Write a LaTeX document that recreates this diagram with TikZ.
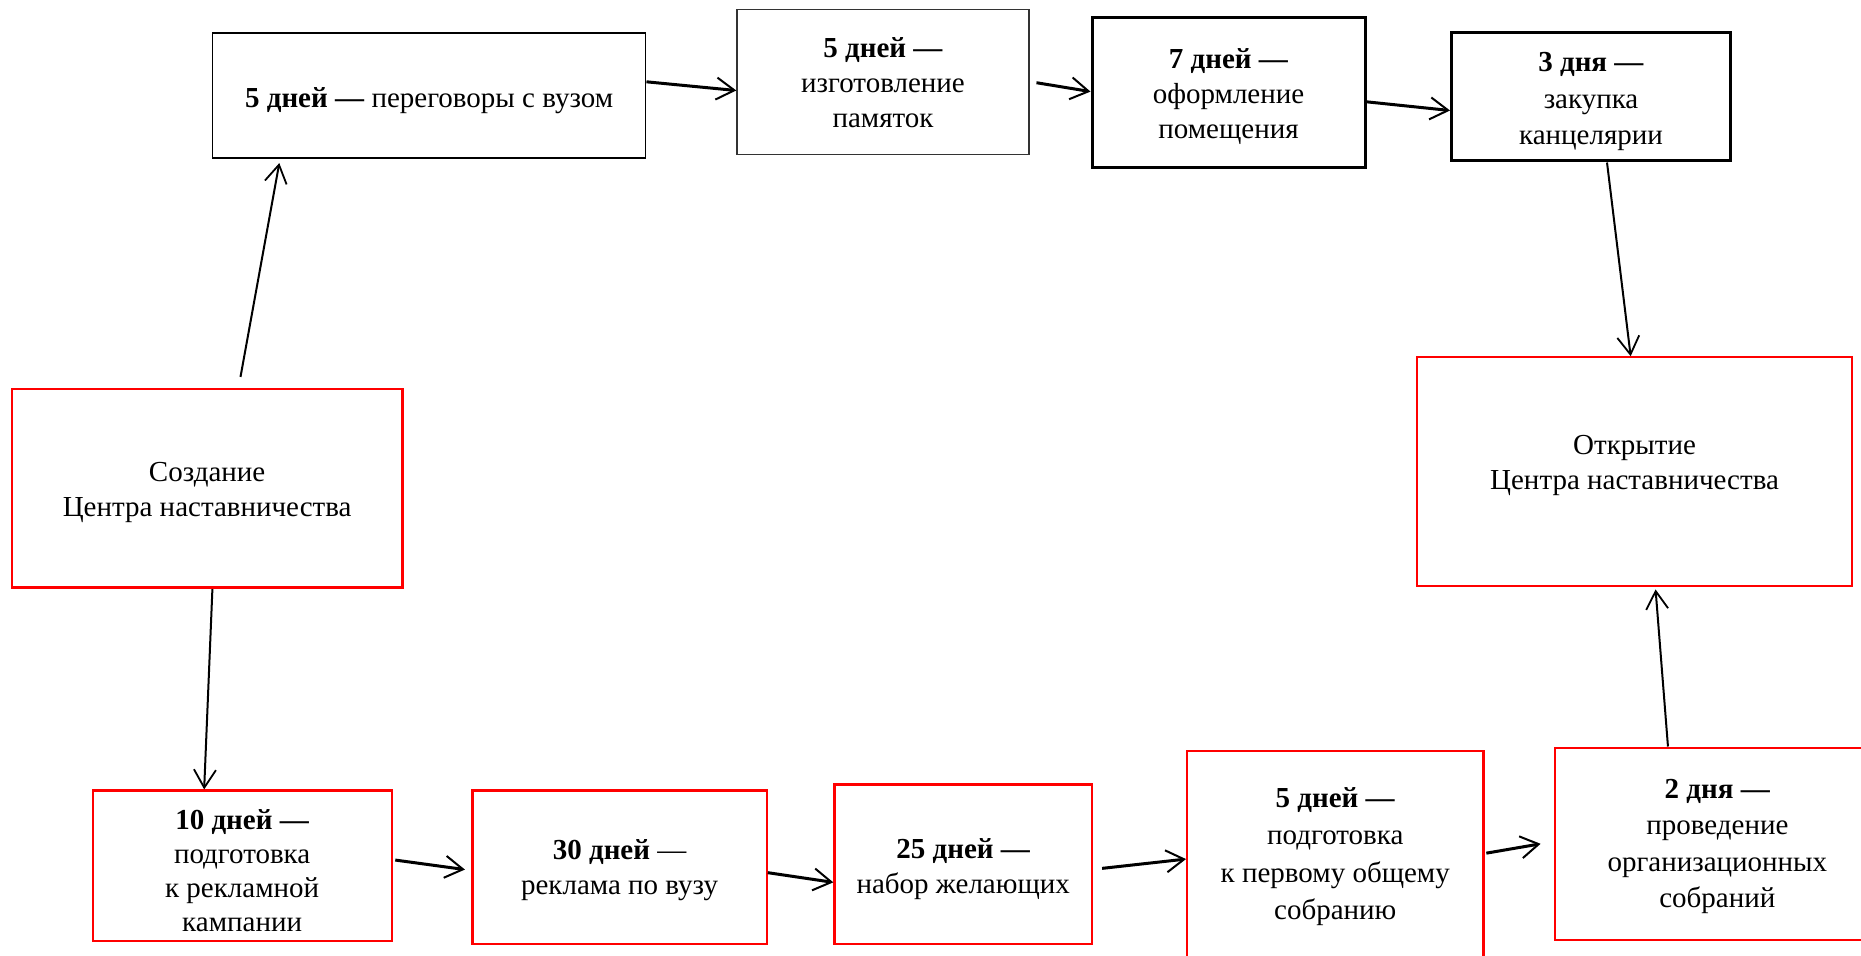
\documentclass[tikz,border=0pt]{standalone}
\usepackage{fontspec}
\setmainfont{Liberation Serif}
\usetikzlibrary{arrows.meta}
\newsavebox\bxbox
\newcommand\bx[3][1]{\sbox\bxbox{\def\arraystretch{#1}\begin{tabular}{@{}c@{}}#3\end{tabular}}\raisebox{#2}[\ht\bxbox][\dp\bxbox]{\usebox\bxbox}}
\begin{document}
\begin{tikzpicture}[x=0.5pt,y=-0.5pt,
  box/.style={draw, rectangle, inner sep=0pt, align=center,
    font=\fontsize{14.5}{17.5}\selectfont},
  thinbox/.style={box, line width=0.75pt},
  thickbox/.style={box, line width=1.5pt},
  redbox/.style={box, draw=red, line width=1.1pt},
  arr/.style={-{Straight Barb[length=9pt,width=11pt,line width=1pt]}, line width=1.5pt},
  longarr/.style={-{Straight Barb[length=9pt,width=11pt,line width=0.9pt]}, line width=1pt}
]
\useasboundingbox (0,0) rectangle (1861,955);
\clip (0,0) rectangle (1861,955);
\fill[white] (0,0) rectangle (1861,955);

\node[thinbox, minimum width=216.6pt, minimum height=62.3pt] (A) at (429.1,95.5)
  {\bx{-2.4pt}{\textbf{5 дней —} переговоры с вузом}};
\node[thinbox, draw=black!80, minimum width=146pt, minimum height=72.4pt] (B) at (883,81.9)
  {\bx{-2pt}{\textbf{5 дней —}\\изготовление\\памяток}};
\node[thickbox, minimum width=136.5pt, minimum height=74.8pt] (C) at (1228.5,92.6)
  {\bx{-2pt}{\textbf{7 дней —}\\оформление\\помещения}};
\node[thickbox, minimum width=139.5pt, minimum height=64.1pt] (D) at (1591,96.1)
  {\bx[1.04]{-2.4pt}{\textbf{3 дня —}\\закупка\\канцелярии}};
\node[redbox, minimum width=195.25pt, minimum height=99.1pt] (E) at (207.15,488.4)
  {\bx{-1.8pt}{Создание\\Центра наставничества}};
\node[redbox, minimum width=217.65pt, minimum height=114.2pt] (F) at (1634.55,471.5)
  {\bx{3.3pt}{Открытие\\Центра наставничества}};
\node[redbox, minimum width=149.55pt, minimum height=75.35pt] (G) at (242.15,865.85)
  {\bx[0.97]{-3.9pt}{\textbf{10 дней —}\\подготовка\\к рекламной\\кампании}};
\node[redbox, minimum width=147.15pt, minimum height=76.55pt] (H) at (619.55,867.05)
  {\bx{-1.5pt}{\textbf{30 дней} —\\реклама по вузу}};
\node[redbox, minimum width=128.8pt, minimum height=79.55pt] (I) at (963.2,864.05)
  {\bx{-2.4pt}{\textbf{25 дней —}\\набор желающих}};
\node[redbox, minimum width=148.15pt, minimum height=103.35pt] (J) at (1335.25,854.65)
  {\bx[1.07]{-0.7pt}{\textbf{5 дней —}\\подготовка\\к первому общему\\собранию}};
\node[redbox, minimum width=162.65pt, minimum height=96.2pt] (K) at (1717.35,843.8)
  {\bx[1.04]{-1pt}{\textbf{2 дня —}\\проведение\\организационных\\собраний}};

\draw[longarr] ([shift={(33.35,-11.3)}]E.north) -- ([shift={(-149.8,4.5)}]A.south);
\draw[longarr] ([shift={(5.25,0.5)}]E.south) -- ([shift={(-38,0)}]G.north);
\draw[arr] ([shift={(0,-13.7)}]A.east) -- ([shift={(0,8.6)}]B.west);
\draw[arr] ([shift={(6.7,0.8)}]B.east) -- ([shift={(0,-1)}]C.west);
\draw[arr] ([shift={(0,9.2)}]C.east) -- ([shift={(0,14.4)}]D.west);
\draw[longarr] ([shift={(16,0.8)}]D.south) -- ([shift={(-3.9,0)}]F.north);
\draw[arr] ([shift={(2.5,-5.8)}]G.east) -- ([shift={(-6.4,2.5)}]H.west);
\draw[arr] ([shift={(0,5.6)}]H.east) -- ([shift={(0,18.3)}]I.west);
\draw[arr] ([shift={(9,4.3)}]I.east) -- ([shift={(0,4.4)}]J.west);
\draw[arr] ([shift={(1.8,-1.5)}]J.east) -- ([shift={(-13,0)}]K.west);
\draw[longarr] ([shift={(-49.4,0)}]K.north) -- ([shift={(21,2.6)}]F.south);
\end{tikzpicture}
\end{document}
